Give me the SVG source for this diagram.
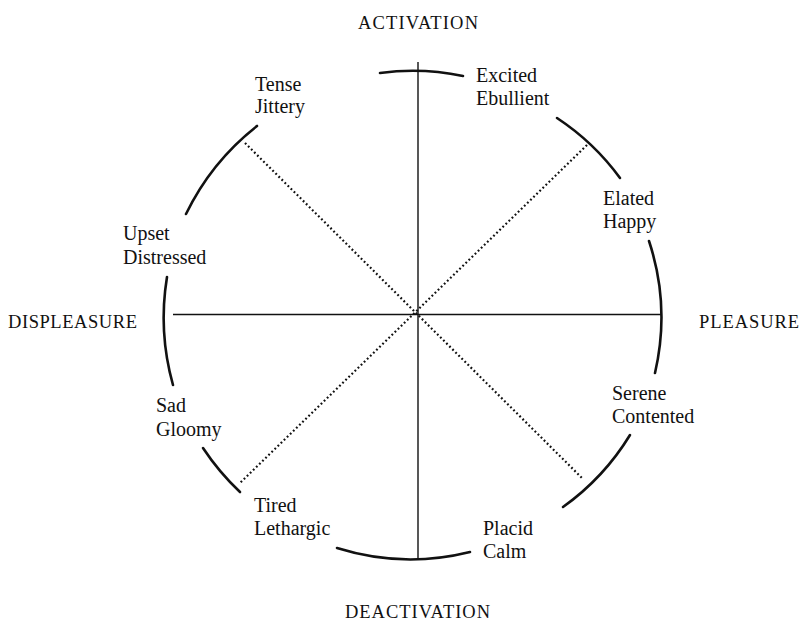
<svg xmlns="http://www.w3.org/2000/svg" width="802" height="636" viewBox="0 0 802 636">
<style>
.bg{fill:#fff}
.lbl{font-family:"Liberation Serif","Times New Roman",serif;font-size:20px;fill:#111}
.cap{font-family:"Liberation Serif","Times New Roman",serif;font-size:18.5px;fill:#111}
.axis{stroke:#111;stroke-width:1.4;fill:none}
.diag{stroke:#111;stroke-width:2.2;fill:none;stroke-dasharray:1.8 2.5}
.arc{stroke:#111;stroke-width:2.6;fill:none;stroke-linecap:round}
</style>
<rect class="bg" x="0" y="0" width="802" height="636"/>
<g id="circle">
<path class="arc" d="M380,73 A245,245 0 0 1 463,76"/>
<path class="arc" d="M557,118 A245,245 0 0 1 620,178"/>
<path class="arc" d="M649,241 A245,245 0 0 1 655,373"/>
<path class="arc" d="M630,435 A245,245 0 0 1 563,507"/>
<path class="arc" d="M470,552 A246,246 0 0 1 337,548"/>
<path class="arc" d="M240,492 A250,250 0 0 1 203,448"/>
<path class="arc" d="M173,385 A250,250 0 0 1 167,277"/>
<path class="arc" d="M186,214 A250,250 0 0 1 257,126"/>
</g>
<g id="connectors">
<line class="axis" x1="418" y1="62" x2="418" y2="558"/>
<line class="axis" x1="173" y1="314.5" x2="662" y2="314.5"/>
<line class="diag" x1="245" y1="143" x2="582" y2="478"/>
<line class="diag" x1="587" y1="145" x2="240" y2="483"/>
</g>
<g id="activation"><text class="cap" x="358" y="29" textLength="120" lengthAdjust="spacing">ACTIVATION</text></g>
<g id="deactivation"><text class="cap" x="345" y="618" textLength="145" lengthAdjust="spacing">DEACTIVATION</text></g>
<g id="displeasure"><text class="cap" x="8" y="328" textLength="129" lengthAdjust="spacing">DISPLEASURE</text></g>
<g id="pleasure"><text class="cap" x="699" y="328" textLength="100" lengthAdjust="spacing">PLEASURE</text></g>
<g id="tense"><text class="lbl" x="255" y="91">Tense</text><text class="lbl" x="255" y="113">Jittery</text></g>
<g id="excited"><text class="lbl" x="476" y="82">Excited</text><text class="lbl" x="476" y="105">Ebullient</text></g>
<g id="elated"><text class="lbl" x="603" y="205">Elated</text><text class="lbl" x="603" y="228">Happy</text></g>
<g id="upset"><text class="lbl" x="123" y="240">Upset</text><text class="lbl" x="123" y="264">Distressed</text></g>
<g id="serene"><text class="lbl" x="612" y="400">Serene</text><text class="lbl" x="612" y="423">Contented</text></g>
<g id="sad"><text class="lbl" x="156" y="412">Sad</text><text class="lbl" x="156" y="436">Gloomy</text></g>
<g id="tired"><text class="lbl" x="254" y="512">Tired</text><text class="lbl" x="254" y="535">Lethargic</text></g>
<g id="placid"><text class="lbl" x="483" y="535">Placid</text><text class="lbl" x="483" y="558">Calm</text></g>
</svg>
